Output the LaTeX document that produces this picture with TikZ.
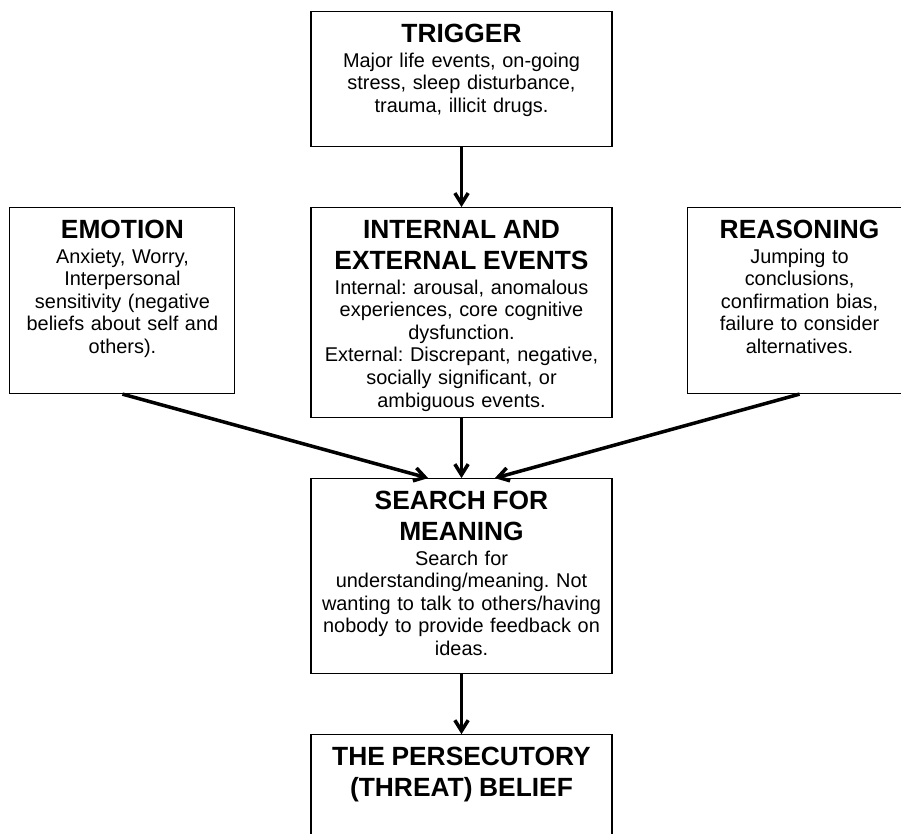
\documentclass[tikz,border=0pt]{standalone}
\usepackage{fontspec}
\setmainfont{Liberation Sans}
\usetikzlibrary{arrows.meta,positioning}
\newcommand{\headfont}{\fontsize{22.5pt}{26.4pt}\selectfont\bfseries}
\newcommand{\boxhead}[1]{{\headfont #1\par}\vspace{1.6pt}}

\begin{document}
\begin{tikzpicture}[
    node distance=1.8cm,
    every node/.style={font=\fontsize{17pt}{19.3pt}\selectfont\frenchspacing},
    box/.style={draw, line width=0.9pt, align=center, anchor=north, inner xsep=0.1cm, inner ysep=0pt, text height=0.93cm, text depth=#1},
    mainbox/.style={box=#1, minimum width=9.03cm, text width=8.8cm},
    sidebox/.style={box=#1, minimum width=6.75cm, text width=6.5cm},
    flow/.style={-{Straight Barb[length=3.2mm, width=4mm]}, line width=3pt}
]
\useasboundingbox (0,0) rectangle (27.03,-24.99);
\node[mainbox=3.12cm] (trigger) at (13.845,-0.33) {\boxhead{TRIGGER}Major life events, on-going\\stress, sleep disturbance,\\trauma, illicit drugs.};
\node[mainbox=5.37cm, below=of trigger] (events) {\boxhead{INTERNAL AND\\EXTERNAL EVENTS}Internal: arousal, anomalous\\experiences, core cognitive\\dysfunction.\\External: Discrepant, negative,\\socially significant, or\\ambiguous events.};
\node[sidebox=4.65cm, left=2.25cm of events.north west, anchor=north east] (emotion) {\boxhead{EMOTION}Anxiety, Worry,\\Interpersonal\\sensitivity (negative\\beliefs about self and\\others).};
\node[sidebox=4.65cm, right=2.22cm of events.north east, anchor=north west] (reasoning) {\boxhead{REASONING}Jumping to\\conclusions,\\confirmation bias,\\failure to consider\\alternatives.};
\node[mainbox=4.92cm, below=of events] (meaning) {\boxhead{SEARCH FOR\\MEANING}Search for\\understanding/meaning. Not\\wanting to talk to others/having\\nobody to provide feedback on\\ideas.};
\node[mainbox=3.12cm, below=of meaning] (belief) {\boxhead{THE PERSECUTORY\\(THREAT) BELIEF}};
\draw[flow] (trigger) -- (events);
\draw[flow] (events) -- (meaning);
\draw[flow] (emotion.south) -- ([xshift=-1cm]meaning.north);
\draw[flow] (reasoning.south) -- ([xshift=1cm]meaning.north);
\draw[flow] (meaning) -- (belief);
\end{tikzpicture}
\end{document}
